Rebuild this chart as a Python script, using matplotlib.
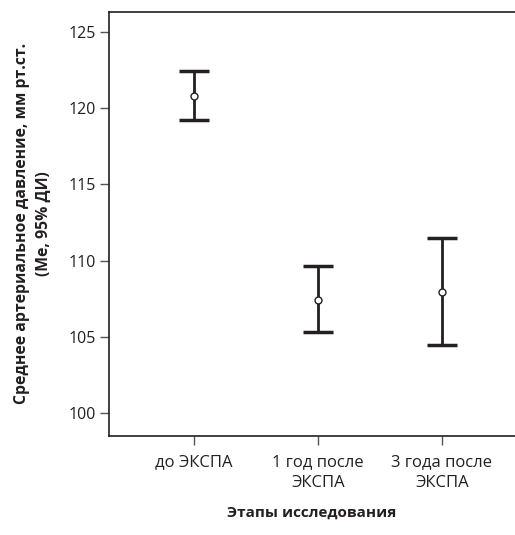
import numpy as np
import matplotlib.pyplot as plt

plt.rcParams['font.family'] = ['Open Sans', 'DejaVu Sans']

# этапы и медианы с 95% ДИ
stages = ['до ЭКСПА', '1 год после\nЭКСПА', '3 года после\nЭКСПА']
median = [120.8, 107.45, 107.95]
ci_low = [119.2, 105.3, 104.45]
ci_high = [122.45, 109.65, 111.5]

ink = '#231f20'

fig = plt.figure(figsize=(5.15, 5.35), dpi=100)
ax = fig.add_axes([0.2117, 0.1856, 0.7883, 0.7925])

x = np.arange(len(stages))
med = np.array(median)
yerr = np.vstack([med - np.array(ci_low), np.array(ci_high) - med])

ax.errorbar(x, med, yerr=yerr, fmt='none', ecolor=ink, elinewidth=2.0,
            capsize=10.5, capthick=2.5)
ax.plot(x, med, 'o', ms=5, mfc='white', mec=ink, mew=1.0, zorder=3)

ax.set_xlim(-0.685, 2.59)
ax.set_ylim(98.53, 126.31)
ax.set_yticks([100, 105, 110, 115, 120, 125])
ax.set_xticks(x)
ax.set_xticklabels(stages, linespacing=1.35)

for s in ['left', 'bottom', 'top']:
    ax.spines[s].set_color(ink)
    ax.spines[s].set_linewidth(1.2)
ax.spines['right'].set_visible(False)

ax.tick_params(axis='both', direction='out', length=6.5, width=1,
               color='#555555', labelcolor=ink)
ax.tick_params(axis='y', labelsize=11.5, pad=3)
ax.tick_params(axis='x', labelsize=12, pad=7)

ax.set_ylabel('Среднее артериальное давление, мм рт.ст.\n(Me, 95% ДИ)',
              fontsize=11.3, fontweight='bold', color=ink, labelpad=12,
              linespacing=1.45)
ax.set_xlabel('Этапы исследования', fontsize=11, fontweight='bold',
              color=ink, labelpad=11)

fig.savefig('out.png', dpi=100)
